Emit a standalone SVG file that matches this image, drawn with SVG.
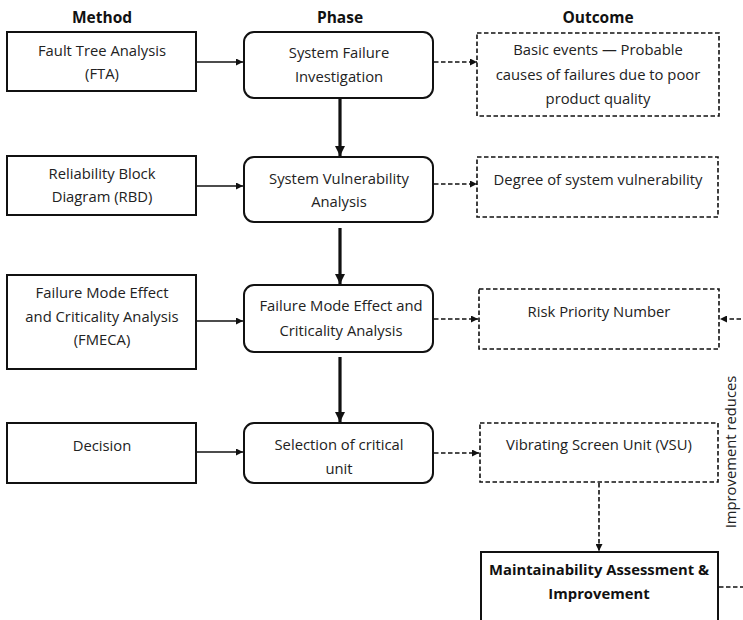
<svg xmlns="http://www.w3.org/2000/svg" width="743" height="620" viewBox="0 0 743 620">
<style>
text{font-family:"Open Sans","Liberation Sans",sans-serif;font-size:14.8px;fill:#222;text-anchor:middle}
.h{font-weight:bold;font-size:15.5px;fill:#111}
.b{font-weight:bold;fill:#111}
.m{fill:#fff;stroke:#111;stroke-width:2}
.p{fill:#fff;stroke:#111;stroke-width:2}
.o{fill:#fff;stroke:#111;stroke-width:1.6;stroke-dasharray:4.5 2.5}
.s{fill:none;stroke:#111;stroke-width:1.6}
.t{fill:none;stroke:#111;stroke-width:3.2}
.d{fill:none;stroke:#111;stroke-width:1.6;stroke-dasharray:4.5 2.5}
</style>
<defs>
<marker id="a" viewBox="0 0 10 10" refX="10" refY="5" markerWidth="8" markerHeight="7" orient="auto" markerUnits="userSpaceOnUse"><path d="M0,0L10,5L0,10z" fill="#111"/></marker>
<marker id="ab" viewBox="0 0 10 10" refX="10" refY="5" markerWidth="10" markerHeight="11" orient="auto" markerUnits="userSpaceOnUse"><path d="M0,0L10,5L0,10z" fill="#111"/></marker>
</defs>
<g id="headers">
<text class="h" x="102" y="23">Method</text>
<text class="h" x="340" y="23">Phase</text>
<text class="h" x="598" y="23">Outcome</text>
</g>
<g id="connectors">
<line class="s" x1="197" y1="62" x2="243" y2="62" marker-end="url(#a)"/>
<line class="s" x1="197" y1="186" x2="243" y2="186" marker-end="url(#a)"/>
<line class="s" x1="197" y1="321" x2="243" y2="321" marker-end="url(#a)"/>
<line class="s" x1="197" y1="452" x2="243" y2="452" marker-end="url(#a)"/>
<line class="t" x1="340" y1="99" x2="340" y2="156" marker-end="url(#ab)"/>
<line class="t" x1="340" y1="228" x2="340" y2="284" marker-end="url(#ab)"/>
<line class="t" x1="340" y1="357" x2="340" y2="422" marker-end="url(#ab)"/>
<line class="d" x1="434" y1="62" x2="477" y2="62" marker-end="url(#a)"/>
<line class="d" x1="434" y1="184" x2="477" y2="184" marker-end="url(#a)"/>
<line class="d" x1="434" y1="319" x2="478" y2="319" marker-end="url(#a)"/>
<line class="d" x1="434" y1="453" x2="479" y2="453" marker-end="url(#a)"/>
<line class="d" x1="599" y1="483" x2="599" y2="551" marker-end="url(#a)"/>
<path class="d" d="M719,587H750V319H720" marker-end="url(#a)"/>
<text transform="translate(736,452) rotate(-90)">Improvement reduces</text>
</g>
<g id="m1"><rect class="m" x="7" y="32" width="189" height="59"/><text x="102" y="56">Fault Tree Analysis</text><text x="102" y="79">(FTA)</text></g>
<g id="m2"><rect class="m" x="7" y="156" width="189" height="59"/><text x="102" y="179">Reliability Block</text><text x="102" y="202">Diagram (RBD)</text></g>
<g id="m3"><rect class="m" x="7" y="275" width="189" height="94"/><text x="102" y="298">Failure Mode Effect</text><text x="102" y="322">and Criticality Analysis</text><text x="102" y="345">(FMECA)</text></g>
<g id="m4"><rect class="m" x="7" y="423" width="189" height="60"/><text x="102" y="451">Decision</text></g>
<g id="p1"><rect class="p" x="244" y="32" width="189" height="66" rx="10"/><text x="339" y="58">System Failure</text><text x="339" y="82">Investigation</text></g>
<g id="p2"><rect class="p" x="244" y="157" width="189" height="65" rx="10"/><text x="339" y="184">System Vulnerability</text><text x="339" y="207">Analysis</text></g>
<g id="p3"><rect class="p" x="244" y="285" width="189" height="67" rx="10"/><text x="341" y="311">Failure Mode Effect and</text><text x="341" y="336">Criticality Analysis</text></g>
<g id="p4"><rect class="p" x="244" y="423" width="189" height="60" rx="10"/><text x="339" y="450">Selection of critical</text><text x="339" y="474">unit</text></g>
<g id="o1"><rect class="o" x="477" y="33" width="242" height="83"/><text x="598" y="55">Basic events — Probable</text><text x="598" y="80">causes of failures due to poor</text><text x="598" y="104">product quality</text></g>
<g id="o2"><rect class="o" x="477" y="157" width="241" height="60"/><text x="598" y="185">Degree of system vulnerability</text></g>
<g id="o3"><rect class="o" x="479" y="289" width="240" height="60"/><text x="599" y="317">Risk Priority Number</text></g>
<g id="o4"><rect class="o" x="480" y="423" width="238" height="59"/><text x="599" y="450">Vibrating Screen Unit (VSU)</text></g>
<g id="mai"><rect class="m" x="481" y="552" width="237" height="80"/><text class="b" x="599" y="575">Maintainability Assessment &amp;</text><text class="b" x="599" y="599">Improvement</text></g>
</svg>
